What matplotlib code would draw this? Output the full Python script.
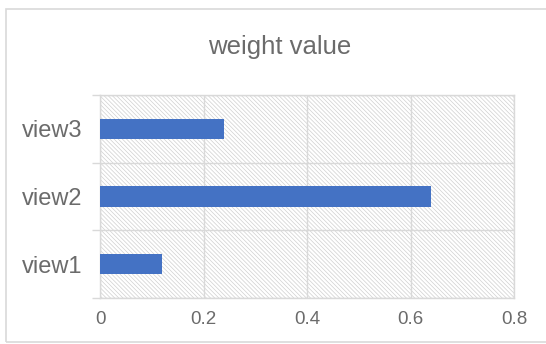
import matplotlib
matplotlib.use("Agg")
import matplotlib.pyplot as plt
from matplotlib.patches import Rectangle

categories = ["view1", "view2", "view3"]
weights = [0.12, 0.64, 0.24]
x_ticks = [0, 0.2, 0.4, 0.6, 0.8]
x_tick_labels = ["0", "0.2", "0.4", "0.6", "0.8"]
title = "weight value"

plt.rcParams["font.family"] = ["Liberation Sans", "DejaVu Sans"]
plt.rcParams["hatch.linewidth"] = 0.5

text_grey = "#6b6b6b"
line_grey = "#d9d9d9"
bar_blue = "#4472c4"

fig = plt.figure(figsize=(5.46, 3.44), dpi=100)
ax = fig.add_axes([100 / 546, 1 - 298 / 344, 414 / 546, 203 / 344])

# outer chart frame
fig.patches.append(Rectangle((6 / 546, 1 - 342 / 344), 1.0, 333 / 344,
                             transform=fig.transFigure, fill=False,
                             edgecolor=line_grey, linewidth=1.2))

# hatched plot area
ax.add_patch(Rectangle((0, 0), 1, 1, transform=ax.transAxes,
                       facecolor="white", edgecolor="#d0d0d0", linewidth=0,
                       hatch="\\" * 8, zorder=0))

ypos = list(range(len(categories)))
ax.barh(ypos, weights, height=0.3, color=bar_blue, zorder=3)

ax.set_xlim(0, 0.8)
ax.set_ylim(-0.5, len(categories) - 0.5)
ax.set_xticks(x_ticks)
ax.set_xticklabels(x_tick_labels)
ax.set_yticks(ypos)
ax.set_yticklabels(categories)
ax.set_yticks([y - 0.5 for y in range(len(categories) + 1)], minor=True)

ax.tick_params(axis="x", length=0, pad=9, labelsize=13.5, labelcolor=text_grey)
ax.tick_params(axis="y", which="major", length=0, pad=13, labelsize=17,
               labelcolor=text_grey)
ax.tick_params(axis="y", which="minor", length=6, width=1, color=line_grey)

ax.grid(True, axis="x", which="major", color=line_grey, linewidth=1, zorder=1)
ax.grid(True, axis="y", which="minor", color=line_grey, linewidth=1, zorder=1)
ax.set_axisbelow(True)
for side in ["top", "right", "bottom", "left"]:
    ax.spines[side].set_color(line_grey)
    ax.spines[side].set_linewidth(1)

fig.text(280 / 546, 1 - 47 / 344, title, ha="center", va="center",
         fontsize=18.5, color=text_grey)

fig.savefig("out.png", dpi=100)
